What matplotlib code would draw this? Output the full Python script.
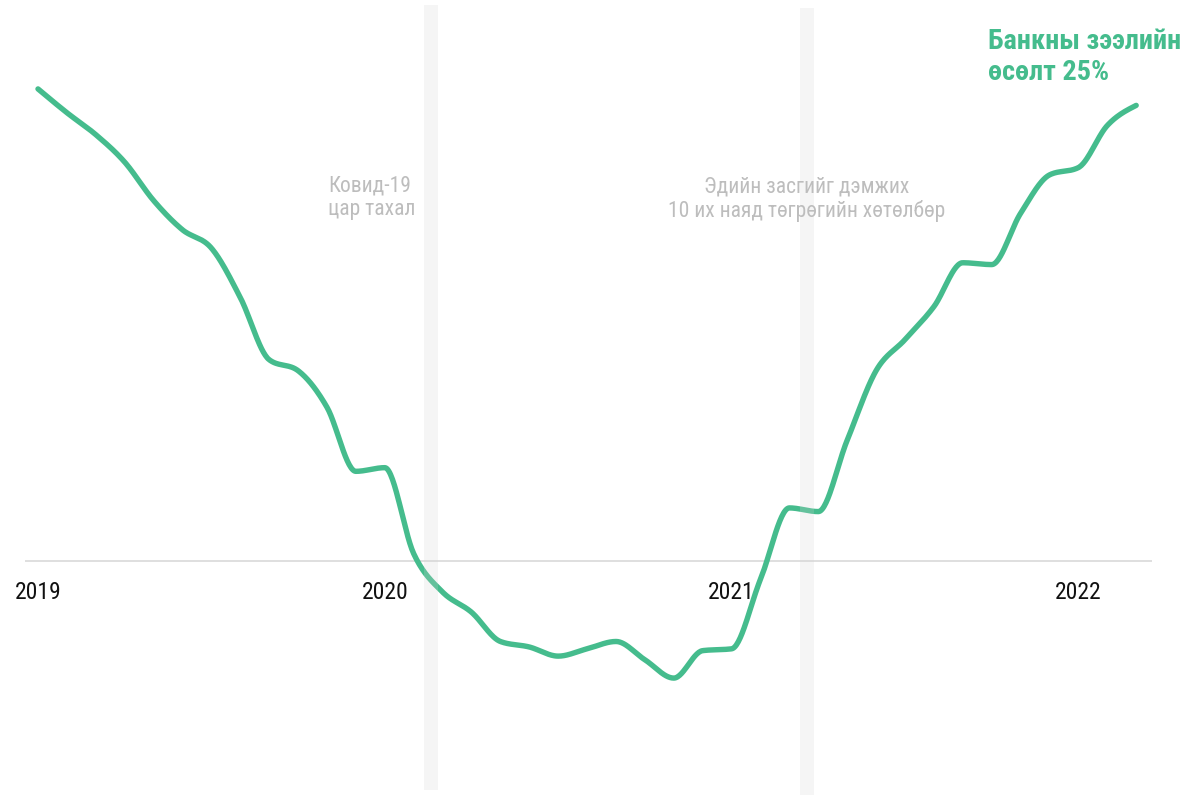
import numpy as np
import matplotlib.pyplot as plt

# Банкны зээлийн өсөлт, жилийн өөрчлөлт (%), сар бүр 2019.01 - 2022.03
months = np.arange(39)
growth = [25.8, 24.5, 23.3, 21.8, 19.7, 18.1, 17.1, 14.4, 11.0, 10.4, 8.4, 4.9,
          5.1, 0.4, -1.7, -2.8, -4.4, -4.7, -5.2, -4.8, -4.4, -5.4, -6.4, -4.9,
          -4.8, -1.0, 2.9, 2.7, 6.6, 10.4, 12.1, 13.9, 16.3, 16.2, 19.0, 21.1,
          21.5, 23.8, 24.9]
year_pos = [0, 12, 24, 36]
year_labels = ['2019', '2020', '2021', '2022']
event_pos = [13.6, 26.6]

GREEN = '#45bc8d'
GREY_TXT = '#bdbdbd'
plt.rcParams['font.family'] = ['Roboto Condensed', 'Roboto', 'DejaVu Sans']


def monotone(x, y, n=30):
    # d3.curveMonotoneX шиг гөлгөр шугам
    x = np.asarray(x, float)
    y = np.asarray(y, float)
    h = np.diff(x)
    s = np.diff(y) / h
    t = np.zeros_like(y)
    for i in range(1, len(y) - 1):
        s0, s1 = s[i - 1], s[i]
        p = (s0 * h[i] + s1 * h[i - 1]) / (h[i - 1] + h[i])
        t[i] = (np.sign(s0) + np.sign(s1)) * min(abs(s0), abs(s1), 0.5 * abs(p))
    t[0] = (3 * s[0] - t[1]) / 2
    t[-1] = (3 * s[-1] - t[-2]) / 2
    xs, ys = [], []
    u = np.linspace(0, 1, n, endpoint=False)
    for i in range(len(x) - 1):
        dx = h[i]
        x0, x1 = x[i], x[i + 1]
        y0, y1 = y[i], y[i + 1]
        c0 = y0 + dx / 3 * t[i]
        c1 = y1 - dx / 3 * t[i + 1]
        xs.append(x0 + dx * u)
        ys.append((1 - u) ** 3 * y0 + 3 * (1 - u) ** 2 * u * c0
                  + 3 * (1 - u) * u ** 2 * c1 + u ** 3 * y1)
    xs.append([x[-1]])
    ys.append([y[-1]])
    return np.concatenate(xs), np.concatenate(ys)


fig = plt.figure(figsize=(11.96, 7.95), dpi=100)
ax = fig.add_axes([0, 0, 1, 1])
ax.axis('off')
ax.set_xlim(-1.315, 40.07)
ax.set_ylim(-12.79, 30.66)

ax.hlines(0, -0.45, 38.55, color='#dcdcdc', lw=1.3, zorder=1)

sx, sy = monotone(months, growth)
ax.plot(sx, sy, color=GREEN, lw=3.9, solid_capstyle='round', zorder=2)

ax.axvspan(event_pos[0] - 0.24, event_pos[0] + 0.24, ymin=0.006, ymax=0.994,
           color='#d4d4d4', alpha=0.22, lw=0, zorder=3)
ax.axvspan(event_pos[1] - 0.24, event_pos[1] + 0.24, ymin=0.0, ymax=0.99,
           color='#d4d4d4', alpha=0.22, lw=0, zorder=3)

for xp, lab in zip(year_pos, year_labels):
    ax.text(xp, -1.1, lab, ha='center', va='top', fontsize=17, color='#111111')

ax.text(13.05, 21.05, 'Ковид-19\nцар тахал', ha='right', va='top',
        multialignment='left', fontsize=15.5, color=GREY_TXT, linespacing=1.15)
ax.text(event_pos[1], 21.0, 'Эдийн засгийг дэмжих\n10 их наяд төгрөгийн хөтөлбөр',
        ha='center', va='top', fontsize=15.5, color=GREY_TXT, linespacing=1.15)

ax.text(32.87, 29.15, 'Банкны зээлийн\nөсөлт 25%', ha='left', va='top',
        fontsize=20.3, fontweight='bold', color=GREEN, linespacing=1.2)

fig.savefig('out.png', dpi=100)
